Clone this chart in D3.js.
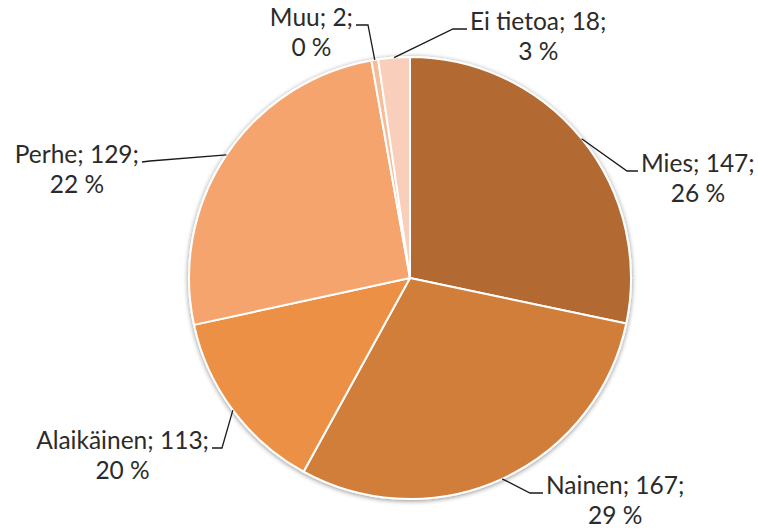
<!DOCTYPE html>
<html>
<head>
<meta charset="utf-8">
<script src="https://cdn.jsdelivr.net/npm/d3@7"></script>
<style>
  html, body { margin: 0; padding: 0; background: #ffffff; }
  svg { display: block; }
</style>
</head>
<body>
<svg id="chart" width="758" height="530"></svg>
<script>
// ---- data ----
const categories = ["Mies", "Nainen", "Alaikäinen", "Perhe", "Muu", "Ei tietoa"];
const counts = [147, 167, 113, 129, 2, 18];
const percentLabels = ["26 %", "29 %", "20 %", "22 %", "0 %", "3 %"];
// slice sizes as drawn in the reference picture (share of the circle, %)
const sliceShares = [28.3, 29.7, 13.6, 25.6, 0.5, 2.3];
const colors = ["#B36B31", "#D17E3A", "#EB9045", "#F5A46D", "#F7BC98", "#F9CEBA"];

// ---- layout ----
const W = 758, H = 530;
const cx = 410, cy = 278, R = 221;
// leader elbow / end points relative to pie centre (label placement)
const leaderLayout = [
  { elbow: [217, -107], end: [228, -107], side: "right" },
  { elbow: [120, 215],  end: [133, 215],  side: "right" },
  { elbow: [-188, 170], end: [-198, 170], side: "left" },
  { elbow: [-260, -117], end: [-268, -116], side: "left" },
  { elbow: [-42, -253], end: [-54, -253], side: "left" },
  { elbow: [43, -249], end: [57, -249], side: "right" }
];

const svg = d3.select("#chart");
const defs = svg.append("defs");
const f = defs.append("filter").attr("id", "shadow")
  .attr("x", "-10%").attr("y", "-10%").attr("width", "120%").attr("height", "120%");
f.append("feGaussianBlur").attr("in", "SourceAlpha").attr("stdDeviation", 2.5).attr("result", "b");
f.append("feOffset").attr("in", "b").attr("dx", 0).attr("dy", 1).attr("result", "o");
f.append("feComponentTransfer").attr("in", "o").attr("result", "s")
  .append("feFuncA").attr("type", "linear").attr("slope", 0.45);
const m = f.append("feMerge");
m.append("feMergeNode").attr("in", "s");
m.append("feMergeNode").attr("in", "SourceGraphic");

const data = categories.map((c, i) => ({ cat: c, count: counts[i], pct: percentLabels[i], share: sliceShares[i], i }));

const pie = d3.pie().value(d => d.share).sort(null);
const arcs = pie(data);
const arc = d3.arc().innerRadius(0).outerRadius(R);

const g = svg.append("g").attr("transform", `translate(${cx},${cy})`);
const slices = g.append("g").attr("filter", "url(#shadow)");
slices.selectAll("path").data(arcs).join("path")
  .attr("d", arc)
  .attr("fill", d => colors[d.data.i])
  .attr("stroke", "#ffffff")
  .attr("stroke-width", 2)
  .attr("stroke-linejoin", "round");

// leader lines
g.selectAll("path.leader").data(arcs).join("path")
  .attr("class", "leader")
  .attr("d", d => {
    const mid = (d.startAngle + d.endAngle) / 2;
    const sx = R * Math.sin(mid), sy = -R * Math.cos(mid);
    const L = leaderLayout[d.data.i];
    return d3.line()([[sx, sy], L.elbow, L.end]);
  })
  .attr("fill", "none")
  .attr("stroke", "#1a1a1a")
  .attr("stroke-width", 1.3);

// labels
const fontFam = "Lato, 'Open Sans', 'DejaVu Sans', sans-serif";
const fontSize = 24.5;
arcs.forEach(d => {
  const L = leaderLayout[d.data.i];
  const gap = 3;
  const t1 = g.append("text")
    .attr("font-family", fontFam)
    .attr("font-size", fontSize)
    .attr("fill", "#2b2b2b")
    .attr("y", L.end[1] + 1)
    .text(`${d.data.cat}; ${d.data.count};`);
  const w = t1.node().getComputedTextLength();
  const x0 = L.side === "right" ? L.end[0] + gap : L.end[0] - gap - w;
  t1.attr("x", x0);
  g.append("text")
    .attr("font-family", fontFam)
    .attr("font-size", fontSize)
    .attr("fill", "#2b2b2b")
    .attr("text-anchor", "middle")
    .attr("x", x0 + w / 2)
    .attr("y", L.end[1] + 1 + 30)
    .text(d.data.pct);
});
</script>
</body>
</html>
